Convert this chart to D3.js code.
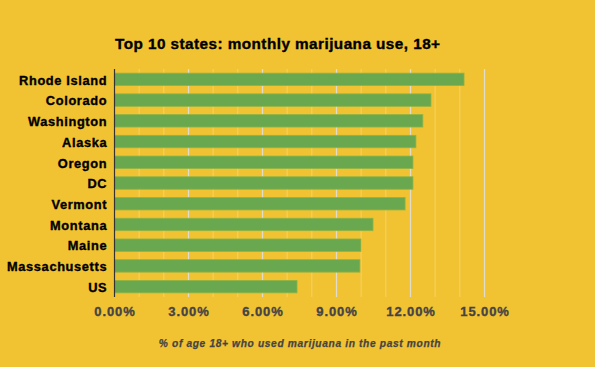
<!DOCTYPE html>
<html><head><meta charset="utf-8">
<script src="https://cdn.jsdelivr.net/npm/d3@7"></script>
<style>
html,body{margin:0;padding:0;background:#f1c232;}
svg{display:block;font-family:"Liberation Sans",Arial,sans-serif;}
</style></head><body>
<svg id="c" width="595" height="367"></svg>
<script>
const states = ["Rhode Island","Colorado","Washington","Alaska","Oregon","DC","Vermont","Montana","Maine","Massachusetts","US"];
const values = [14.17,12.83,12.5,12.22,12.1,12.1,11.78,10.48,9.99,9.95,7.4];
const majorTicks = [0,3,6,9,12,15];
const minorTicks = [1,2,4,5,7,8,10,11,13,14];
const title = "Top 10 states: monthly marijuana use, 18+";
const xTitle = "% of age 18+ who used marijuana in the past month";

const svg = d3.select("#c");
svg.append("rect").attr("width",595).attr("height",367).attr("fill","#f1c232");

const pLeft = 114.5, pRight = 484.5, pTop = 69, pBottom = 297;
const x = d3.scaleLinear().domain([0,15]).range([pLeft,pRight]);
const y = d3.scaleBand().domain(states).range([pTop,pBottom]).paddingInner(0.4).paddingOuter(0.2);

// gridlines
svg.append("g").selectAll("line").data(minorTicks).join("line")
  .attr("x1",d=>x(d)).attr("x2",d=>x(d)).attr("y1",pTop).attr("y2",pBottom)
  .attr("stroke","#f5d267").attr("stroke-width",1);
svg.append("g").selectAll("line").data(majorTicks.slice(1)).join("line")
  .attr("x1",d=>x(d)).attr("x2",d=>x(d)).attr("y1",pTop).attr("y2",pBottom)
  .attr("stroke","#e2dccb").attr("stroke-width",1.2);

// bars
svg.append("g").selectAll("rect").data(states).join("rect")
  .attr("x",x(0)).attr("y",d=>y(d))
  .attr("width",(d,i)=>x(values[i])-x(0)).attr("height",y.bandwidth())
  .attr("fill","#6aa84f").attr("stroke","#8fb444").attr("stroke-width",0.8);

// y axis line
svg.append("line").attr("x1",pLeft).attr("x2",pLeft).attr("y1",pTop).attr("y2",pBottom)
  .attr("stroke","#333").attr("stroke-width",1.2);

// y labels
const yAxis = d3.axisLeft(y).tickSize(0).tickPadding(7.3);
const gy = svg.append("g").attr("transform",`translate(${pLeft},1.2)`).call(yAxis);
gy.select(".domain").remove();
gy.selectAll("text").attr("font-size",12.8).attr("font-weight","bold").attr("fill","#000")
  .attr("stroke","#000").attr("stroke-width",0.35).attr("letter-spacing","0.65px")
  .attr("font-family","Liberation Sans, Arial, sans-serif");

// x labels
const xAxis = d3.axisBottom(x).tickValues(majorTicks).tickSize(0).tickPadding(10)
  .tickFormat(d=>d.toFixed(2)+"%");
const gx = svg.append("g").attr("transform",`translate(0,${pBottom})`).call(xAxis);
gx.select(".domain").remove();
gx.selectAll("text").attr("font-size",13).attr("font-weight","bold").attr("fill","#444")
  .attr("stroke","#444").attr("stroke-width",0.35).attr("letter-spacing","0.9px")
  .attr("font-family","Liberation Sans, Arial, sans-serif");

// title
svg.append("text").attr("x",115).attr("y",49).text(title)
  .attr("font-size",15.3).attr("font-weight","bold").attr("fill","#000")
  .attr("stroke","#000").attr("stroke-width",0.35).attr("letter-spacing","0.45px");

// x title
svg.append("text").attr("x",300).attr("y",346.5).attr("text-anchor","middle").text(xTitle)
  .attr("font-size",10.2).attr("font-weight","bold").attr("font-style","italic").attr("fill","#444")
  .attr("stroke","#444").attr("stroke-width",0.25).attr("letter-spacing","0.65px");
</script>
</body></html>
